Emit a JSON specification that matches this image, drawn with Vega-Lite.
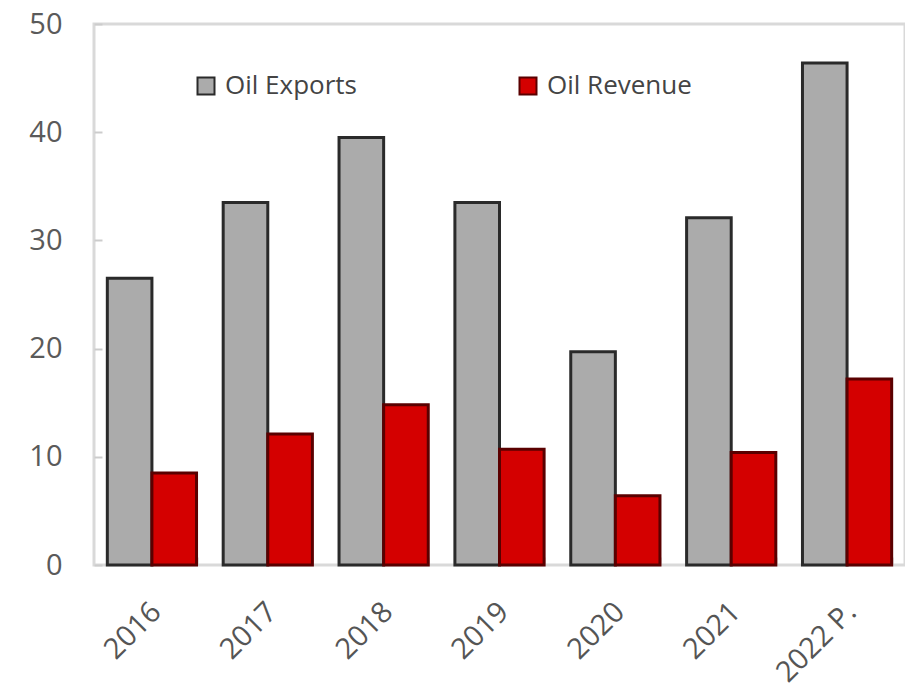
{
  "$schema": "https://vega.github.io/schema/vega-lite/v6.json",
  "autosize": "none",
  "padding": {"left": 94, "top": 24, "right": 0, "bottom": 125},
  "width": 811,
  "height": 541,
  "background": "white",
  "config": {
    "font": "Open Sans",
    "view": {"stroke": "#d9d9d9", "strokeWidth": 3}
  },
  "data": {
    "values": [
      {"year": "2016", "series": "Oil Exports", "value": 26.5},
      {"year": "2016", "series": "Oil Revenue", "value": 8.5},
      {"year": "2017", "series": "Oil Exports", "value": 33.5},
      {"year": "2017", "series": "Oil Revenue", "value": 12.1},
      {"year": "2018", "series": "Oil Exports", "value": 39.5},
      {"year": "2018", "series": "Oil Revenue", "value": 14.8},
      {"year": "2019", "series": "Oil Exports", "value": 33.5},
      {"year": "2019", "series": "Oil Revenue", "value": 10.7},
      {"year": "2020", "series": "Oil Exports", "value": 19.7},
      {"year": "2020", "series": "Oil Revenue", "value": 6.4},
      {"year": "2021", "series": "Oil Exports", "value": 32.1},
      {"year": "2021", "series": "Oil Revenue", "value": 10.4},
      {"year": "2022 P.", "series": "Oil Exports", "value": 46.4},
      {"year": "2022 P.", "series": "Oil Revenue", "value": 17.2}
    ]
  },
  "mark": {"type": "bar", "strokeWidth": 3},
  "encoding": {
    "x": {
      "field": "year",
      "type": "nominal",
      "sort": null,
      "scale": {"paddingInner": 0.23, "paddingOuter": 0.115},
      "axis": {
        "title": null,
        "labelAngle": -45,
        "labelFontSize": 29,
        "labelColor": "#555",
        "labelPadding": 40,
        "labelOffset": -6,
        "domain": false,
        "tickBand": "extent",
        "tickColor": "#cccccc",
        "tickSize": -8,
        "tickWidth": 2
      }
    },
    "xOffset": {
      "field": "series",
      "type": "nominal",
      "scale": {"paddingInner": 0, "paddingOuter": 0}
    },
    "y": {
      "field": "value",
      "type": "quantitative",
      "scale": {"domain": [0, 50], "nice": false},
      "axis": {
        "title": null,
        "values": [0, 10, 20, 30, 40, 50],
        "grid": false,
        "domain": false,
        "labelFontSize": 29,
        "labelColor": "#5a5a5a",
        "labelPadding": 40,
        "tickColor": "#cccccc",
        "tickSize": -8,
        "tickWidth": 2
      }
    },
    "color": {
      "field": "series",
      "type": "nominal",
      "scale": {"domain": ["Oil Exports", "Oil Revenue"], "range": ["#ababab", "#d40000"]},
      "legend": {
        "title": null,
        "orient": "none",
        "direction": "horizontal",
        "legendX": 99,
        "legendY": 49,
        "symbolType": "square",
        "symbolSize": 289,
        "symbolStrokeWidth": 2,
        "labelFontSize": 26,
        "labelColor": "#444",
        "labelOffset": 6,
        "columnPadding": 158
      }
    },
    "stroke": {
      "field": "series",
      "type": "nominal",
      "scale": {"domain": ["Oil Exports", "Oil Revenue"], "range": ["#2a2a2a", "#5a0000"]},
      "legend": null
    }
  }
}
